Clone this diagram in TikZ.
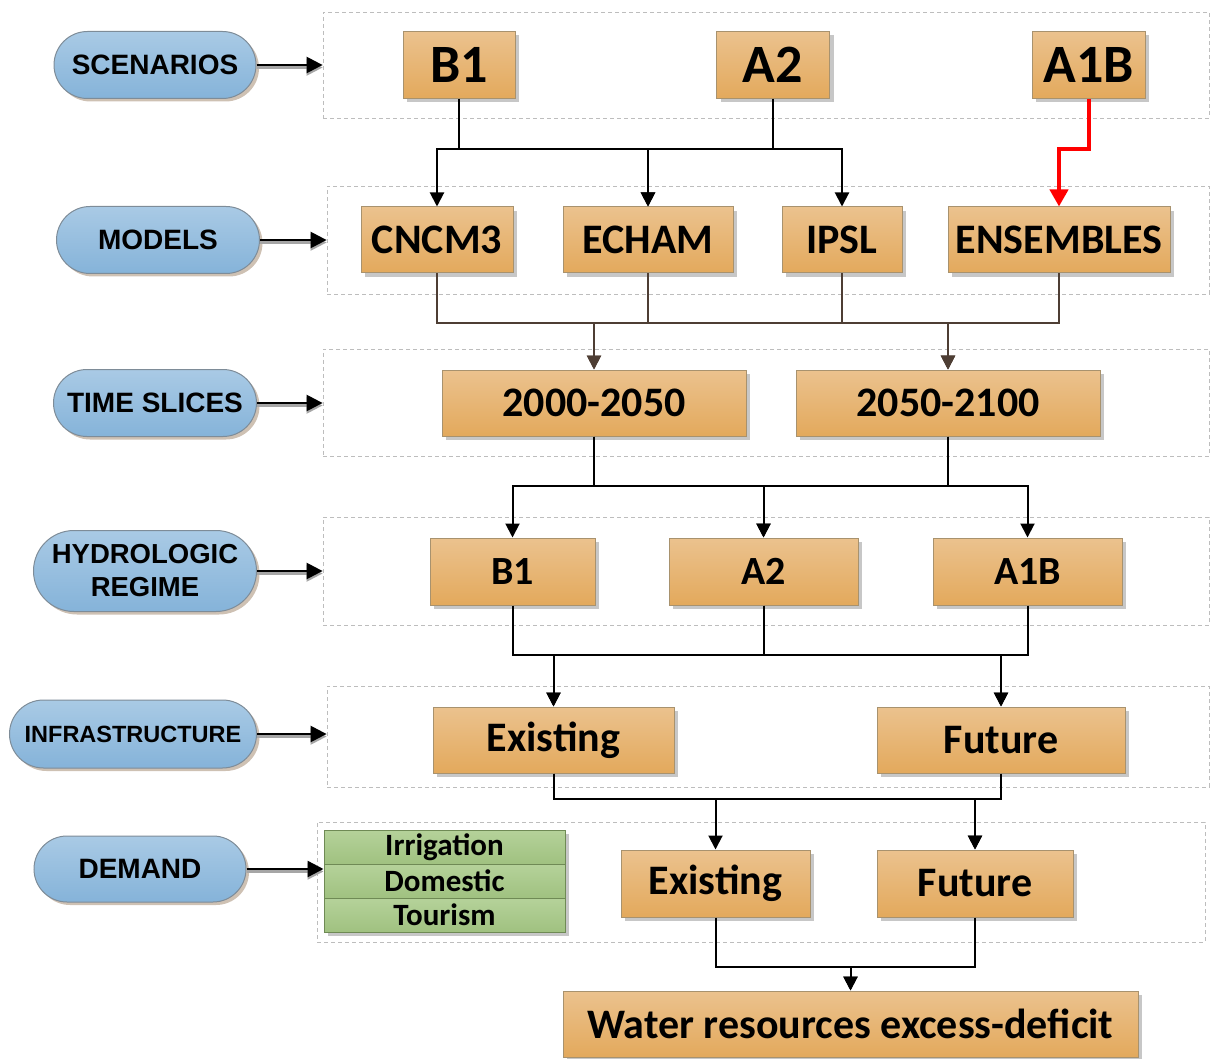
\documentclass[tikz,border=0pt]{standalone}
\usepackage{fontspec}
\setmainfont{Carlito}
\newfontfamily\arialf{Liberation Sans}
\usetikzlibrary{shapes.misc,shadows,arrows.meta,calc}
\definecolor{oboxa}{HTML}{EBC28E}
\definecolor{oboxb}{HTML}{E3A95C}
\definecolor{oline}{HTML}{A8926E}
\definecolor{pilla}{HTML}{A9CAE5}
\definecolor{pillb}{HTML}{85B3D9}
\definecolor{pline}{HTML}{7E8C98}
\definecolor{grna}{HTML}{B5D29A}
\definecolor{grnb}{HTML}{A0C180}
\definecolor{gline}{HTML}{6F8A55}
\definecolor{bandc}{HTML}{BDBDBD}
\definecolor{brownc}{HTML}{4E3E34}
\begin{document}
\begin{tikzpicture}[x=1pt,y=-1pt,
 obox/.style={draw=oline, line width=1pt, top color=oboxa, bottom color=oboxb, inner sep=0pt,
   drop shadow={shadow xshift=4pt, shadow yshift=-4pt, fill=black, opacity=0.22}},
 big/.style={font=\fontsize{54}{60}\selectfont\bfseries},
 mid/.style={font=\fontsize{42}{48}\selectfont\bfseries},
 hyd/.style={font=\fontsize{40}{46}\selectfont\bfseries},
 small/.style={font=\fontsize{31}{34}\selectfont\bfseries},
 pill/.style={rounded rectangle, draw=pline, line width=1pt, top color=pilla, bottom color=pillb,
   inner sep=0pt, minimum height=67pt, align=center,
   font=\arialf\fontsize{28}{31}\selectfont\bfseries,
   drop shadow={shadow xshift=3pt, shadow yshift=-3pt, fill=brown!60!black, opacity=0.35}},
 gbox/.style={draw=gline, line width=1pt, top color=grna, bottom color=grnb, inner sep=0pt,
   minimum width=241pt, minimum height=34pt, small,
   drop shadow={shadow xshift=4pt, shadow yshift=-4pt, fill=black, opacity=0.22}},
 band/.style={draw=bandc, dashed, dash pattern=on 4pt off 3pt, line width=0.8pt, inner sep=0pt},
 conn/.style={draw=black, line width=2pt, -{Triangle[length=14pt,width=14pt]}},
 connb/.style={draw=brownc, line width=2pt, -{Triangle[length=14pt,width=14pt]}},
 redconn/.style={draw=red, line width=4pt, -{Triangle[length=17pt,width=18pt]}},
 parrow/.style={draw=black, line width=2.4pt, -{Triangle[length=16pt,width=16pt]},
   preaction={draw=gray!70, line width=2.4pt, transform canvas={yshift=-2.5pt}}}
]
\useasboundingbox (0,0) rectangle (1210,1059);

% bands
\node[band, minimum width=886pt, minimum height=106pt] (b1) at (766,65) {};
\node[band, minimum width=882pt, minimum height=108pt] (b2) at (768,240) {};
\node[band, minimum width=886pt, minimum height=107pt] (b3) at (766,402.5) {};
\node[band, minimum width=886pt, minimum height=108pt] (b4) at (766,571) {};
\node[band, minimum width=882pt, minimum height=101pt] (b5) at (768,736.5) {};
\node[band, minimum width=888pt, minimum height=120pt] (b6) at (761,882) {};

% pills
\node[pill, minimum width=202pt] (p1) at (155,65) {SCENARIOS};
\node[pill, minimum width=203pt] (p2) at (158,240) {MODELS};
\node[pill, minimum width=203pt] (p3) at (155,403) {TIME SLICES};
\node[pill, minimum width=223pt, minimum height=81pt, font=\arialf\fontsize{27.5}{33}\selectfont\bfseries] (p4) at (145,571) {HYDROLOGIC\\REGIME};
\node[pill, minimum width=247pt, minimum height=68pt, font=\arialf\fontsize{23.5}{27}\selectfont\bfseries] (p5) at (133,734) {INFRASTRUCTURE};
\node[pill, minimum width=212pt, minimum height=66pt] (p6) at (140,869) {DEMAND};

% scenarios
\node[obox, big, minimum width=112pt, minimum height=67pt] (s1) at (459,65) {B1};
\node[obox, big, minimum width=113pt, minimum height=67pt] (s2) at (773,65) {A2};
\node[obox, big, minimum width=113pt, minimum height=67pt] (s3) at (1088.5,65) {A1B};

% models
\node[obox, mid, minimum width=152pt, minimum height=66pt] (m1) at (437,240) {CNCM3};
\node[obox, mid, minimum width=170pt, minimum height=66pt] (m2) at (648,240) {ECHAM};
\node[obox, mid, minimum width=120pt, minimum height=66pt] (m3) at (842,240) {IPSL};
\node[obox, mid, minimum width=222pt, minimum height=66pt] (m4) at (1059,240) {ENSEMBLES};

% time slices
\node[obox, mid, minimum width=304pt, minimum height=66pt] (t1) at (594,403) {2000-2050};
\node[obox, mid, minimum width=304pt, minimum height=66pt] (t2) at (948,403) {2050-2100};

% hydrologic regime
\node[obox, hyd, minimum width=165pt, minimum height=67pt] (h1) at (512.5,571.5) {B1};
\node[obox, hyd, minimum width=189pt, minimum height=67pt] (h2) at (763.5,571.5) {A2};
\node[obox, hyd, minimum width=189pt, minimum height=67pt] (h3) at (1027.5,571.5) {A1B};

% infrastructure
\node[obox, mid, minimum width=241pt, minimum height=66pt] (i1) at (553.5,740) {Existing};
\node[obox, mid, minimum width=248pt, minimum height=66pt] (i2) at (1001,740) {Future};

% demand
\node[gbox] (g1) at (444.5,847) {Irrigation};
\node[gbox] (g2) at (444.5,881) {Domestic};
\node[gbox] (g3) at (444.5,915) {Tourism};
\node[obox, mid, minimum width=189pt, minimum height=67pt] (d1) at (715.5,883.5) {Existing};
\node[obox, mid, minimum width=196pt, minimum height=67pt] (d2) at (975,883.5) {Future};

% result
\node[obox, mid, minimum width=575pt, minimum height=66pt] (w) at (850.5,1024) {Water resources excess-deficit};

% pill arrows
\draw[parrow] (p1.east) -- (p1.east -| b1.west);
\draw[parrow] (p2.east) -- (p2.east -| b2.west);
\draw[parrow] (p3.east) -- (p3.east -| b3.west);
\draw[parrow] (p4.east) -- (p4.east -| b4.west);
\draw[parrow] (p5.east) -- (p5.east -| b5.west);
\draw[parrow] (p6.east) -- (p6.east -| g2.west);

% buses
\coordinate (busA) at (0,149);
\coordinate (busB) at (0,323);
\coordinate (busC) at (0,486);
\coordinate (busD) at (0,655);
\coordinate (busE) at (0,799);
\coordinate (busF) at (0,967);

% scenarios -> models
\draw[conn] (s1.south) -- (s1.south |- busA) -| (m1.north);
\draw[conn] (s1.south) -- (s1.south |- busA) -| (m2.north);
\draw[conn] (s2.south) -- (s2.south |- busA) -| (m2.north);
\draw[conn] (s2.south) -- (s2.south |- busA) -| (m3.north);
\draw[redconn] (s3.south) -- (s3.south |- busA) -| (m4.north);

% models -> time slices
\draw[connb] (m1.south) -- (m1.south |- busB) -| (t1.north);
\draw[connb] (m2.south) -- (m2.south |- busB) -| (t1.north);
\draw[connb] (m2.south) -- (m2.south |- busB) -| (t2.north);
\draw[connb] (m3.south) -- (m3.south |- busB) -| (t2.north);
\draw[connb] (m4.south) -- (m4.south |- busB) -| (t2.north);

% time slices -> hydrologic
\draw[conn] (t1.south) -- (t1.south |- busC) -| (h1.north);
\draw[conn] (t1.south) -- (t1.south |- busC) -| (h2.north);
\draw[conn] (t2.south) -- (t2.south |- busC) -| (h2.north);
\draw[conn] (t2.south) -- (t2.south |- busC) -| (h3.north);

% hydrologic -> infrastructure
\draw[conn] (h1.south) -- (h1.south |- busD) -| (i1.north);
\draw[conn] (h2.south) -- (h2.south |- busD) -| (i1.north);
\draw[conn] (h2.south) -- (h2.south |- busD) -| (i2.north);
\draw[conn] (h3.south) -- (h3.south |- busD) -| (i2.north);

% infrastructure -> demand
\draw[conn] (i1.south) -- (i1.south |- busE) -| (d1.north);
\draw[conn] (i1.south) -- (i1.south |- busE) -| (d2.north);
\draw[conn] (i2.south) -- (i2.south |- busE) -| (d2.north);

% demand -> result
\draw[conn] (d1.south) -- (d1.south |- busF) -| (w.north);
\draw[conn] (d2.south) -- (d2.south |- busF) -| (w.north);
\end{tikzpicture}
\end{document}
